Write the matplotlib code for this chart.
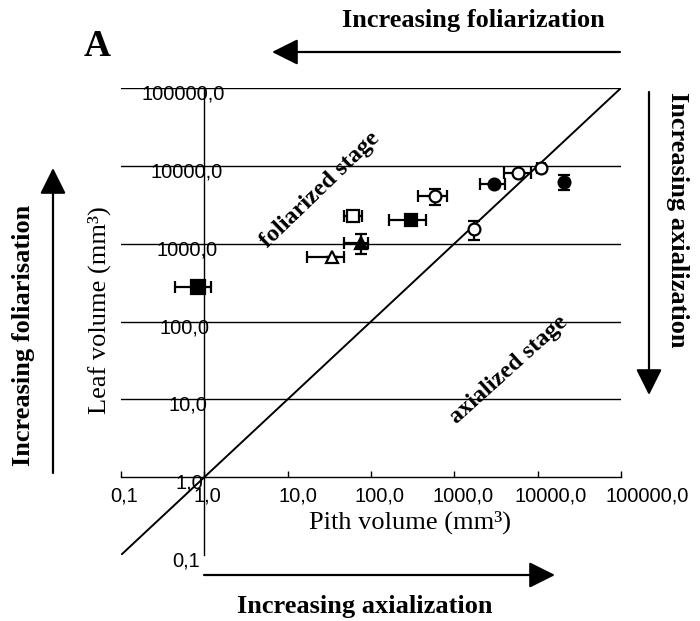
import numpy as np
import matplotlib
matplotlib.use('Agg')
import matplotlib.pyplot as plt
import matplotlib.transforms as mtrans

# pith / leaf volumes (mm3)
pith = [0.85, 34, 75, 61, 300, 580, 3000, 5800, 10900, 20800, 1730]
leaf = [280, 680, 1030, 2260, 2010, 4090, 5780, 8010, 9290, 6250, 1530]
pith_err_lo = [0.41, 17, 27, 14, 137, 217, 980, 1870, 1000, 0, 0]
pith_err_hi = [0.35, 14, 18, 18, 153, 231, 1040, 2480, 1500, 0, 0]
leaf_err = [0, 0, 300, 150, 0, 950, 0, 0, 500, 1400, 420]
markers = ['s', '^', '^', 's', 's', 'o', 'o', 'o', 'o', 'o', 'o']
filled = [True, False, True, False, True, False, True, False, False, True, False]

decades = [0.1, 1, 10, 100, 1000, 10000, 100000]
x_labels = ['0,1', '1,0', '10,0', '100,0', '1000,0', '10000,0', '100000,0']
y_labels = ['0,1', '1,0', '10,0', '100,0', '1000,0', '10000,0', '100000,0']
one_to_one = [0.1, 100000]

W, H = 700, 621
fig = plt.figure(figsize=(W / 100, H / 100), dpi=100)
ax = fig.add_axes([121 / W, 66 / H, 500 / W, 467 / H])
ax.set_xscale('log')
ax.set_yscale('log')
ax.set_xlim(0.1, 100000)
ax.set_ylim(0.1, 100000)

# axes cross at (1, 1)
ax.spines['top'].set_visible(False)
ax.spines['right'].set_visible(False)
ax.spines['left'].set_position(('data', 1))
ax.spines['bottom'].set_position(('data', 1))
for s in ['left', 'bottom']:
    ax.spines[s].set_linewidth(1.0)

for v in decades[2:]:
    ax.axhline(v, color='black', lw=1.0, zorder=1)

ax.plot(one_to_one, one_to_one, color='black', lw=1.4, zorder=2)

for i in range(len(pith)):
    fc = 'black' if filled[i] else 'white'
    ms = 10.5 if i == 0 else 8.5
    ax.errorbar(pith[i], leaf[i],
                xerr=[[pith_err_lo[i]], [pith_err_hi[i]]],
                yerr=[[leaf_err[i]], [leaf_err[i]]],
                fmt=markers[i], mfc=fc, mec='black', mew=1.6, ms=ms,
                ecolor='black', elinewidth=1.6, capsize=4, capthick=1.6,
                zorder=3, clip_on=False)

ax.minorticks_off()
ax.set_xticks(decades)
ax.set_xticklabels(x_labels)
ax.set_yticks(decades)
ax.set_yticklabels(y_labels)
ax.tick_params(axis='x', direction='in', length=4, width=1, pad=7)
ax.tick_params(axis='y', direction='in', length=0, pad=0)
for lab in ax.get_xticklabels() + ax.get_yticklabels():
    lab.set_fontfamily('Liberation Sans')
    lab.set_fontsize(14.5)

# the scanned tick labels sit a bit off their ticks
x_shift = [3, 3, 10, 8, 9, 13, 26]
for lab, dx in zip(ax.get_xticklabels(), x_shift):
    lab.set_transform(lab.get_transform() +
                      mtrans.ScaledTranslation(dx / 100, 0, fig.dpi_scale_trans))
y_shift = [-4, -1, 3, 5, 13, 18, 21]
for lab, dx in zip(ax.get_yticklabels(), y_shift):
    lab.set_transform(lab.get_transform() +
                      mtrans.ScaledTranslation(dx / 100, -4 / 100, fig.dpi_scale_trans))


def fx(px):
    return px / W


def fy(py):
    return 1 - py / H


serif = 'Liberation Serif'
fig.text(fx(410), fy(522), 'Pith volume (mm³)', family=serif, size=19,
         ha='center', va='center')
fig.text(fx(99), fy(310), 'Leaf volume (mm³)', family=serif, size=19,
         ha='center', va='center', rotation=90)

ax.text(24.8, 4890, 'foliarized stage', family=serif, weight='bold', size=17.5,
        rotation=44, ha='center', va='center', rotation_mode='anchor')
ax.text(4510, 23.7, 'axialized stage', family=serif, weight='bold', size=17.5,
        rotation=42, ha='center', va='center', rotation_mode='anchor')

fig.text(fx(97), fy(47), 'A', family=serif, weight='bold', size=27,
         ha='center', va='center')
fig.text(fx(473), fy(21), 'Increasing foliarization', family=serif,
         weight='bold', size=19, ha='center', va='center')
fig.text(fx(365), fy(607), 'Increasing axialization', family=serif,
         weight='bold', size=19, ha='center', va='center')
fig.text(fx(24), fy(335), 'Increasing foliarisation', family=serif,
         weight='bold', size=19, ha='center', va='center', rotation=90)
fig.text(fx(678), fy(220), 'Increasing axialization', family=serif,
         weight='bold', size=19, ha='center', va='center', rotation=-90)


def arrow(x0, y0, x1, y1):
    fig.add_artist(matplotlib.patches.FancyArrowPatch(
        (fx(x0), fy(y0)), (fx(x1), fy(y1)), transform=fig.transFigure,
        arrowstyle='-|>,head_length=0.8,head_width=0.4', mutation_scale=20,
        color='black', lw=1.6, shrinkA=0, shrinkB=0))


arrow(620, 52, 272, 52)
arrow(53, 473, 53, 168)
arrow(649, 92, 649, 395)
arrow(204, 575, 555, 575)

fig.savefig('out.png', dpi=100)
